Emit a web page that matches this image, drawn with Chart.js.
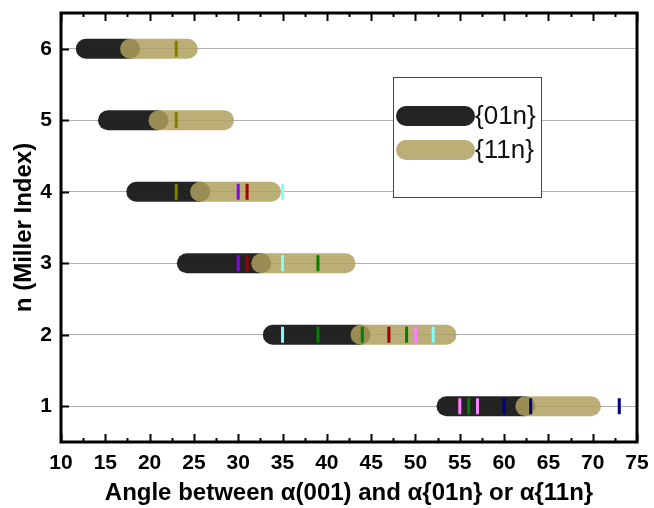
<!DOCTYPE html>
<html>
<head>
<meta charset="utf-8">
<script src="https://cdn.jsdelivr.net/npm/chart.js@4.4.1/dist/chart.umd.min.js"></script>
<style>
  html, body { margin: 0; padding: 0; background: #fff; }
</style>
</head>
<body>
<canvas id="chart" width="654" height="508"></canvas>
<script>
// n = Miller index, one row per n
var millerIndex = [1, 2, 3, 4, 5, 6];

// angle ranges (degrees) for the two families
var start01n = [53.5, 33.9, 24.2, 18.5, 15.3, 12.8];
var end01n   = [62.4, 43.8, 32.6, 25.7, 21.0, 17.8];
var start11n = [62.4, 43.8, 32.6, 25.7, 21.0, 17.8];
var end11n   = [69.8, 53.5, 42.1, 33.7, 28.4, 24.3];

// small coloured marks, grouped by colour
var markerColors = ['#808000', '#8a00ff', '#a00000', '#80ffff', '#008000', '#ff80ff', '#000080'];
var markerAngles = [[23, 23, 23], [30, 30], [31, 31, 47], [35, 35, 35, 52], [39, 39, 44, 49, 56], [50, 55, 57], [60, 63, 73]];
var markerRows   = [[6, 5, 4], [4, 3], [4, 3, 2], [4, 3, 2, 2], [3, 2, 2, 2, 1], [2, 1, 1], [1, 1, 1]];

var xTicks = [10, 15, 20, 25, 30, 35, 40, 45, 50, 55, 60, 65, 70, 75];

var black = 'rgba(26,26,26,0.96)';
var tan = 'rgba(175,161,95,0.85)';
var fontName = '"Liberation Sans", Arial, sans-serif';

var datasets = [];

markerColors.forEach(function (c, k) {
    datasets.push({
        data: markerAngles[k].map(function (a, j) { return { x: a, y: markerRows[k][j] }; }),
        showLine: false,
        pointStyle: 'line',
        rotation: 90,
        pointRadius: 8,
        borderWidth: 3,
        borderColor: c,
        backgroundColor: c,
        order: 1
    });
});

millerIndex.forEach(function (n, i) {
    datasets.push({
        data: [{ x: start11n[i], y: n }, { x: end11n[i], y: n }],
        showLine: true,
        borderColor: tan,
        borderWidth: 20,
        borderCapStyle: 'round',
        pointRadius: 0,
        order: 2
    });
    datasets.push({
        data: [{ x: start01n[i], y: n }, { x: end01n[i], y: n }],
        showLine: true,
        borderColor: black,
        borderWidth: 20,
        borderCapStyle: 'round',
        pointRadius: 0,
        order: 3
    });
});

// frame, inward ticks and the legend box
var decor = {
    id: 'decor',
    afterDatasetsDraw: function (chart) {
        var ctx = chart.ctx, a = chart.chartArea;
        var xs = chart.scales.x, ys = chart.scales.y;
        ctx.save();
        ctx.strokeStyle = '#000';
        ctx.lineWidth = 2;
        for (var v = xTicks[0]; v <= xTicks[xTicks.length - 1]; v += 2.5) {
            var px = Math.round(xs.getPixelForValue(v)) + 0.5;
            var len = (v % 5 === 0) ? 8 : 4;
            ctx.beginPath();
            ctx.moveTo(px, a.bottom); ctx.lineTo(px, a.bottom - len);
            ctx.moveTo(px, a.top); ctx.lineTo(px, a.top + len);
            ctx.stroke();
        }
        millerIndex.forEach(function (n) {
            var py = Math.round(ys.getPixelForValue(n)) + 0.5;
            ctx.beginPath();
            ctx.moveTo(a.left, py); ctx.lineTo(a.left + 8, py);
            ctx.stroke();
        });
        ctx.lineWidth = 3;
        ctx.strokeRect(a.left, a.top, a.right - a.left, a.bottom - a.top);

        // legend
        ctx.fillStyle = '#fff';
        ctx.fillRect(393, 77, 149, 121);
        ctx.lineWidth = 1;
        ctx.strokeStyle = '#444';
        ctx.strokeRect(393.5, 77.5, 148, 120);
        ctx.lineCap = 'round';
        ctx.lineWidth = 20;
        ctx.strokeStyle = black;
        ctx.beginPath(); ctx.moveTo(406, 116); ctx.lineTo(465, 116); ctx.stroke();
        ctx.strokeStyle = tan;
        ctx.beginPath(); ctx.moveTo(406, 150); ctx.lineTo(465, 150); ctx.stroke();
        ctx.fillStyle = '#111';
        ctx.font = '26px ' + fontName;
        ctx.textBaseline = 'middle';
        ctx.fillText('{01n}', 475, 117);
        ctx.fillText('{11n}', 475, 151);
        ctx.restore();
    }
};

new Chart(document.getElementById('chart'), {
    type: 'scatter',
    data: { datasets: datasets },
    plugins: [decor],
    options: {
        responsive: false,
        animation: false,
        events: [],
        layout: { padding: { top: 13, right: 17, left: 0, bottom: 0 } },
        plugins: { legend: { display: false }, tooltip: { enabled: false } },
        scales: {
            x: {
                type: 'linear',
                min: 10,
                max: 75,
                afterFit: function (s) { s.height = 66; s.paddingLeft = 0; s.paddingRight = 0; },
                afterBuildTicks: function (s) { s.ticks = xTicks.map(function (v) { return { value: v }; }); },
                grid: { display: false },
                border: { display: false },
                ticks: { color: '#000', padding: 1, font: { family: fontName, size: 21, weight: 'bold' } },
                title: {
                    display: true,
                    text: 'Angle between α(001) and α{01n} or α{11n}',
                    color: '#000',
                    padding: { top: 0, bottom: 0 },
                    font: { family: fontName, size: 24, weight: 'bold' }
                }
            },
            y: {
                type: 'linear',
                min: 0.5,
                max: 6.5,
                afterFit: function (s) { s.width = 61; s.paddingTop = 0; s.paddingBottom = 0; },
                afterBuildTicks: function (s) { s.ticks = millerIndex.map(function (v) { return { value: v }; }); },
                grid: { color: '#b0b0b0', lineWidth: 1, drawTicks: false },
                border: { display: false },
                ticks: { color: '#000', padding: 9, font: { family: fontName, size: 21, weight: 'bold' } },
                title: {
                    display: true,
                    text: 'n (Miller Index)',
                    color: '#000',
                    padding: { top: 10, bottom: 0 },
                    font: { family: fontName, size: 24, weight: 'bold' }
                }
            }
        }
    }
});
</script>
</body>
</html>
